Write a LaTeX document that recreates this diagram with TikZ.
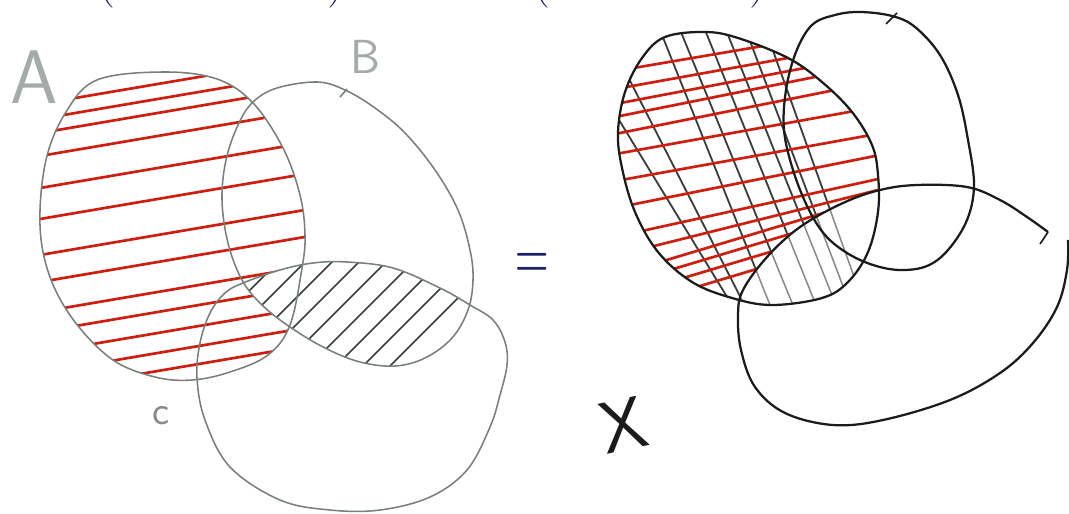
\documentclass[tikz,border=0pt]{standalone}
\usepackage{graphicx}
\definecolor{pencil}{RGB}{120,128,122}
\definecolor{ink}{RGB}{25,28,25}
\definecolor{redhatch}{RGB}{205,30,15}
\definecolor{hatchdark}{RGB}{55,65,58}
\definecolor{hatchgrey}{RGB}{135,140,135}
\definecolor{bluepen}{RGB}{28,32,105}
\definecolor{labgrey}{RGB}{165,172,168}
\begin{document}
\begin{tikzpicture}[x=0.025cm,y=-0.025cm,
  outlineL/.style={draw=pencil, line width=1.1pt},
  outlineR/.style={draw=ink, line width=1.6pt},
  redline/.style={draw=redhatch, line width=1.9pt, line cap=round},
  hatchL/.style={draw=hatchdark, line width=1.2pt, line cap=round},
  hatchR/.style={draw=hatchdark, line width=1.3pt, line cap=round},
  hatchRlight/.style={draw=hatchgrey, line width=1.1pt, line cap=round},
  lab/.style={inner sep=0pt, font=\sffamily},
  paren/.style={inner sep=0pt, text=bluepen, font=\fontsize{36}{36}\selectfont}]
\useasboundingbox (0,0) rectangle (1069,513);
\fill[white] (0,0) rectangle (1069,513);
\clip (0,0) rectangle (1069,513);

% ---------- shapes ----------
\def\shA{plot[smooth cycle, tension=0.6] coordinates {(97,80) (163,72) (217,79) (253,103) (283,148) (300,195) (305,235) (302,268) (290,325) (268,355) (230,372) (192,380) (155,377) (113,360) (75,322) (50,277) (40,225) (46,160) (66,112)}}
\def\shB{plot[smooth cycle, tension=0.6] coordinates {(253,102) (277,88) (317,82) (345,90) (375,108) (405,133) (435,170) (458,210) (470,250) (473,280) (468,310) (452,338) (425,358) (395,366) (360,362) (325,348) (290,327) (262,305) (242,280) (228,243) (222,200) (226,160) (238,125)}}
\def\shC{plot[smooth cycle, tension=0.6] coordinates {(243,283) (280,270) (313,263) (347,262) (393,268) (440,288) (470,305) (493,320) (505,342) (507,365) (500,395) (490,427) (467,470) (430,497) (380,510) (330,510) (280,500) (230,467) (205,420) (197,378) (200,343) (210,313) (225,293)}}
\def\shAr{plot[smooth cycle, tension=0.6] coordinates {(642,58) (665,37) (705,32) (738,38) (788,58) (822,82) (852,112) (872,145) (878,175) (878,212) (868,252) (848,282) (822,298) (772,305) (732,298) (692,282) (658,252) (635,212) (622,168) (618,132) (625,92)}}
\def\shBr{plot[smooth cycle, tension=0.6] coordinates {(812,25) (835,15) (860,12) (892,16) (915,27) (940,55) (958,95) (968,140) (974,185) (967,220) (948,250) (927,266) (900,270) (873,265) (847,253) (825,235) (808,208) (793,170) (784,130) (786,90) (796,52)}}
\def\ptsCr{(1048,232) (1027,217) (1000,200) (967,187) (917,185) (880,190) (843,203) (800,227) (767,257) (743,290) (738,315) (741,350) (755,387) (785,413) (833,425) (883,420) (950,400) (1000,373) (1033,343) (1057,307) (1067,270) (1068,240)}

% ---------- left diagram: red hatching of A ----------
\begin{scope}
  \clip \shA;
  \foreach \yy in {104,119,133,156,188,219,255,282,312,332,353,373,391}
    \draw[redline] (30,\yy+1.7) -- (320,\yy-47.6);
\end{scope}
% B cap C : clear and hatch
\begin{scope}
  \clip \shB;
  \fill[white] \shC;
  \clip \shC;
  \foreach \k in {540,567,594,621,648,675,702,729,756}
    \draw[hatchL] (\k-375,375) -- (\k-255,255);
\end{scope}
% outlines
\draw[outlineL] \shA;
\draw[outlineL] \shB;
\draw[outlineL] \shC;
\draw[outlineL] (347,89) -- (340,97);

% ---------- right diagram ----------
\begin{scope}
  \clip \shAr;
  \foreach \xt/\xb in {558/735,599/747,656/772,676/795,701/818,722/838,742/852,762/866}
    \draw[hatchR] (\xt,20) -- (\xb,310);
  \foreach \yy/\s in {72/0.17,90/0.18,105/0.19,118/0.2,135/0.2,155/0.18,182/0.18,209/0.2,238/0.22,257/0.25,277/0.3,288/0.3,300/0.3,313/0.3}
    \draw[redline] (600,\yy+10*\s) -- (890,\yy-280*\s);
\end{scope}
\begin{scope}
  \clip \shAr;
  \clip plot[smooth cycle, tension=0.6] coordinates {\ptsCr};
  \fill[white] (600,0) rectangle (900,320);
  \foreach \xt/\xb in {558/735,599/747,656/772,676/795,701/818,722/838,742/852,762/866}
    \draw[hatchRlight] (\xt,20) -- (\xb,310);
\end{scope}
\draw[outlineR] \shAr;
\draw[outlineR] \shBr;
\draw[outlineR] plot[smooth, tension=0.6] coordinates {\ptsCr};
\draw[outlineR, line width=1.2pt] (1048,232) -- (1040,244);
\draw[outlineR, line width=1.2pt] (886,24) -- (897,13);

% ---------- labels ----------
\node[lab, text=labgrey, font=\sffamily\fontsize{54}{54}\selectfont] (labA) at (34,77) {A};
\node[lab, text=labgrey, font=\sffamily\fontsize{34}{34}\selectfont] (labB) at (365,57) {B};
\node[lab, text=hatchgrey, font=\sffamily\fontsize{29}{29}\selectfont] (labC) at (161,416) {c};
\node[lab, text=bluepen, font=\fontsize{33}{33}\selectfont] (eq) at (532,267) {\scalebox{1}[1.7]{=}};
\node[lab, text=ink, font=\sffamily\fontsize{52}{52}\selectfont, rotate=12] (labX) at (624,425) {X};
% cut-off parentheses at the top edge (only their lower ends show)
\node[paren, anchor=base] (p1) at (106,-5) {(};
\node[paren, anchor=base] (p2) at (336,-5) {)};
\node[paren, anchor=base] (p3) at (541,-5) {(};
\node[paren, anchor=base] (p4) at (758,-5) {)};
\end{tikzpicture}
\end{document}
